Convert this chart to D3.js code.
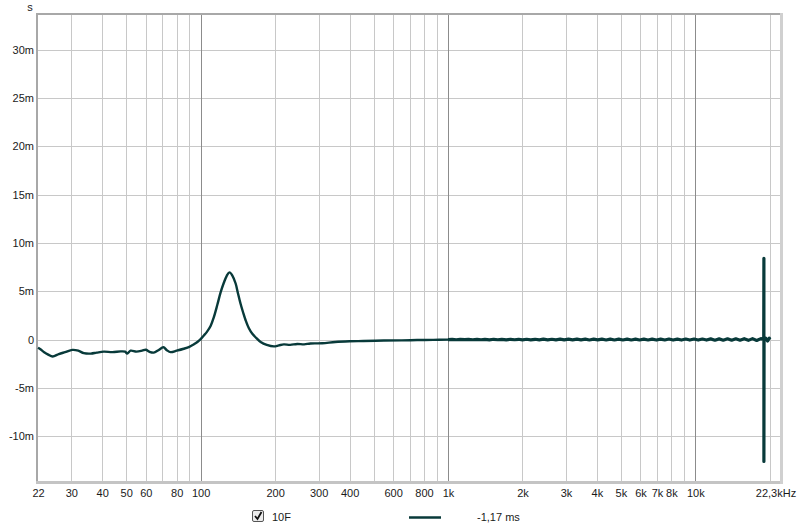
<!DOCTYPE html>
<html><head><meta charset="utf-8">
<script src="https://cdn.jsdelivr.net/npm/d3@7"></script>
<style>
html,body{margin:0;padding:0;background:#fff;}
text{font-family:"Liberation Sans",Arial,sans-serif;font-size:11px;fill:#1a1a1a;}
</style></head>
<body><svg id="c" width="800" height="532"></svg>
<script>
// Low/mid frequency trace (Hz, ms)
const lowFreq = [22,22.5,23.3,24.2,25.2,26.7,28.3,30.3,32,33.7,36,38,40.6,44,47.5,49.5,50.5,52.1,55,58,60,62,64.6,67.5,70.7,73,75.6,80,85.4,90,93.7,97,100,102.8,106,109.7,113,116.8,120.5,124.2,127.5,130.9,134.5,138.5,141.5,145,148.5,152,156.5,161.8,168,174.8,185,197.9,207,217,230,245.7,262,278,310,350,400,455,550,650,750,873,1000];
const lowVal  = [-0.85,-1.0,-1.3,-1.55,-1.75,-1.5,-1.3,-1.07,-1.15,-1.4,-1.45,-1.35,-1.25,-1.3,-1.22,-1.25,-1.45,-1.15,-1.25,-1.15,-1.05,-1.25,-1.35,-1.1,-0.8,-1.1,-1.3,-1.15,-0.95,-0.75,-0.5,-0.25,0.05,0.4,0.8,1.4,2.3,3.6,4.9,5.9,6.6,6.95,6.6,5.8,4.8,3.7,2.8,2.0,1.2,0.6,0.15,-0.25,-0.55,-0.7,-0.6,-0.5,-0.55,-0.45,-0.5,-0.4,-0.38,-0.25,-0.18,-0.15,-0.1,-0.08,-0.05,-0.03,0.0];
// High frequency noisy part (Hz, ms)
const highFreq = [1000,1040,1080,1120,1170,1210,1260,1310,1360,1410,1470,1530,1590,1650,1720,1790,1860,1930,2000,2080,2160,2250,2340,2430,2530,2630,2730,2840,2950,3070,3190,3320,3450,3590,3730,3880,4030,4190,4360,4530,4710,4900,5090,5300,5510,5730,5950,6190,6440,6690,6960,7240,7520,7820,8130,8460,8790,9140,9500,9880,10270,10680,11100,11540,12000,12480,12970,13490,14020,14580,15160,15760,16380,17030,17700,18400,18900,18930,18930,18960,19250,19600,19900,20000];
const highVal  = [0.0,0.02,-0.02,0.03,-0.01,0.02,-0.02,0.03,-0.02,0.02,-0.03,0.03,-0.02,0.03,-0.03,0.03,-0.02,0.03,-0.03,0.03,-0.03,0.03,-0.03,0.04,-0.03,0.03,-0.03,0.04,-0.03,0.04,-0.03,0.04,-0.03,0.04,-0.04,0.04,-0.03,0.04,-0.04,0.05,-0.04,0.04,-0.04,0.05,-0.04,0.05,-0.04,0.05,-0.04,0.05,-0.05,0.05,-0.04,0.06,-0.05,0.05,-0.05,0.06,-0.05,0.06,-0.05,0.06,-0.05,0.07,-0.06,0.07,-0.06,0.08,-0.07,0.08,-0.07,0.09,-0.08,0.1,-0.09,0.1,0.0,8.4,-12.6,0.0,0.15,-0.15,0.15,0.0];

const xTickVals = [22,30,40,50,60,80,100,200,300,400,600,800,1000,2000,3000,4000,5000,6000,7000,8000,10000,22300];
const xTickLabels = ["22","30","40","50","60","80","100","200","300","400","600","800","1k","2k","3k","4k","5k","6k","7k","8k","10k","22,3kHz"];
const xMinorGrid = [30,40,50,60,70,80,90,200,300,400,500,600,700,800,900,2000,3000,4000,5000,6000,7000,8000,9000,20000];
const xMajorGrid = [100,1000,10000];
const yTickVals = [30,25,20,15,10,5,0,-5,-10];
const yTickLabels = ["30m","25m","20m","15m","10m","5m","0","-5m","-10m"];
const legendName = "10F";
const legendValue = "-1,17 ms";
const yUnit = "s";

const L=38,R=780,T=15,B=481;
const x = d3.scaleLog().domain([22,22300]).range([L,R+1.5]);
const y = d3.scaleLinear().domain([-14.73,33.57]).range([B+1,T]);
const svg = d3.select("#c");

// grid
const g = svg.append("g");
g.selectAll("line.hy").data(yTickVals).join("line")
 .attr("x1",L).attr("x2",R).attr("y1",d=>Math.round(y(d))+0.5).attr("y2",d=>Math.round(y(d))+0.5)
 .attr("stroke","#c8c8c8").attr("stroke-width",1);
g.selectAll("line.mv").data(xMinorGrid).join("line")
 .attr("x1",d=>Math.round(x(d))+0.5).attr("x2",d=>Math.round(x(d))+0.5).attr("y1",T).attr("y2",B)
 .attr("stroke","#c8c8c8").attr("stroke-width",1);
g.selectAll("line.Mv").data(xMajorGrid).join("line")
 .attr("x1",d=>Math.round(x(d))+0.5).attr("x2",d=>Math.round(x(d))+0.5).attr("y1",T).attr("y2",B)
 .attr("stroke","#8c8c8c").attr("stroke-width",1);

// frame (bevel)
svg.append("line").attr("x1",L-2).attr("x2",R+3).attr("y1",T-1).attr("y2",T-1).attr("stroke","#a8a8a8").attr("stroke-width",2);
svg.append("line").attr("x1",L-1).attr("x2",L-1).attr("y1",T-2).attr("y2",B+3).attr("stroke","#a8a8a8").attr("stroke-width",2);
svg.append("line").attr("x1",L-2).attr("x2",R+3).attr("y1",B+1.5).attr("y2",B+1.5).attr("stroke","#c4c4c4").attr("stroke-width",3);
svg.append("line").attr("x1",R+1.5).attr("x2",R+1.5).attr("y1",T-2).attr("y2",B+3).attr("stroke","#d0d0d0").attr("stroke-width",3);

// axes
const xAxis = d3.axisBottom(x).tickValues(xTickVals).tickFormat((d,i)=>xTickLabels[i]).tickSize(0).tickPadding(0);
const xa = svg.append("g").attr("transform",`translate(0,${497})`).call(xAxis);
xa.select(".domain").remove();
xa.selectAll("text").attr("dy",0).attr("y",0).style("font-size","11px").attr("fill","#1a1a1a");
xa.selectAll("text").filter((d,i)=>i===xTickVals.length-1).attr("text-anchor","middle").attr("dx",-6);

const yAxis = d3.axisLeft(y).tickValues(yTickVals).tickFormat((d,i)=>yTickLabels[i]).tickSize(0).tickPadding(4);
const ya = svg.append("g").attr("transform",`translate(${L},0)`).call(yAxis);
ya.select(".domain").remove();
ya.selectAll("text").style("font-size","11px").attr("fill","#1a1a1a");

svg.append("text").attr("x",30).attr("y",11).attr("text-anchor","middle").text(yUnit);

// trace
const lowData = lowFreq.map((f,i)=>[f,lowVal[i]]);
const highData = highFreq.map((f,i)=>[f,highVal[i]]);
const smooth = d3.line().x(d=>x(d[0])).y(d=>y(d[1])).curve(d3.curveCatmullRom.alpha(0.5));
const straight = d3.line().x(d=>x(d[0])).y(d=>y(d[1]));
svg.append("path").datum(lowData).attr("d",smooth).attr("fill","none")
 .attr("stroke","#083a3a").attr("stroke-width",2.4).attr("stroke-linejoin","round");
svg.append("path").datum(highData).attr("d",straight).attr("fill","none")
 .attr("stroke","#083a3a").attr("stroke-width",3.2).attr("stroke-linejoin","round");

// legend
const lg = svg.append("g");
lg.append("rect").attr("x",252.5).attr("y",510.5).attr("width",11).attr("height",11).attr("rx",1.5)
 .attr("fill","#ececec").attr("stroke","#555").attr("stroke-width",1);
lg.append("path").attr("d","M255,516 L257.5,519 L261.5,512").attr("fill","none").attr("stroke","#111").attr("stroke-width",1.8);
lg.append("text").attr("x",272).attr("y",521).text(legendName).attr("fill","#1a3a4a");
lg.append("line").attr("x1",409).attr("x2",441).attr("y1",517.5).attr("y2",517.5).attr("stroke","#083a3a").attr("stroke-width",2.5);
lg.append("text").attr("x",477).attr("y",521).text(legendValue);
</script></body></html>
